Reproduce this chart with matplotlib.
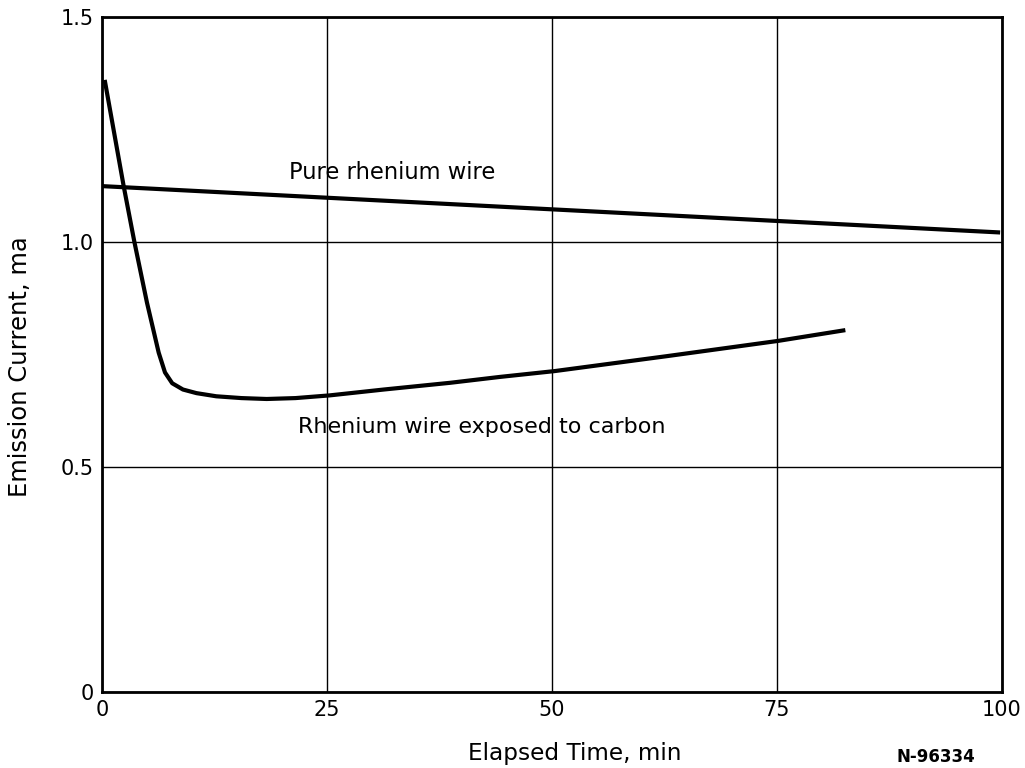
import matplotlib.pyplot as plt

# emission current vs elapsed time
pure_time = [0, 99.8]
pure_current = [1.124, 1.021]

carbon_time = [0.3, 2.4, 3.6, 5.0, 6.3, 7.0, 7.8, 9.0, 10.5, 12.7, 15.5,
               18.3, 21.5, 25.3, 31.3, 38.7, 44.2, 50.3, 62.7, 75.1, 82.6]
carbon_current = [1.36, 1.125, 1.0, 0.865, 0.754, 0.71, 0.686, 0.672, 0.664,
                  0.657, 0.653, 0.651, 0.653, 0.659, 0.672, 0.687, 0.70,
                  0.713, 0.746, 0.78, 0.804]

x_ticks = [0, 25, 50, 75, 100]
y_ticks = [0, 0.5, 1.0, 1.5]
y_labels = ['0', '0.5', '1.0', '1.5']

plt.rcParams['font.family'] = 'DejaVu Sans'

fig = plt.figure(figsize=(10.25, 7.68), dpi=100)
ax = fig.add_axes([0.0995, 0.099, 0.878, 0.879])

ax.plot(pure_time, pure_current, color='black', lw=3, solid_capstyle='butt')
ax.plot(carbon_time, carbon_current, color='black', lw=3,
        solid_capstyle='butt', solid_joinstyle='round')

ax.set_xlim(0, 100)
ax.set_ylim(0, 1.5)
ax.set_xticks(x_ticks)
ax.set_yticks(y_ticks)
ax.set_yticklabels(y_labels)
ax.grid(True, color='black', lw=1)
ax.tick_params(length=0, labelsize=15, pad=6)
for s in ax.spines.values():
    s.set_linewidth(2)

ax.text(20.8, 1.155, 'Pure rhenium wire', fontsize=16.3, va='center')
ax.text(21.8, 0.588, 'Rhenium wire exposed to carbon', fontsize=16, va='center')

fig.text(0.0195, 0.522, 'Emission Current, ma', rotation=90, fontsize=17.5,
         ha='center', va='center')
fig.text(0.561, 0.019, 'Elapsed Time, min', fontsize=16.7, ha='center', va='center')
fig.text(0.913, 0.014, 'N-96334', fontsize=12, fontweight='bold',
         ha='center', va='center')

fig.savefig('out.png', dpi=100)
